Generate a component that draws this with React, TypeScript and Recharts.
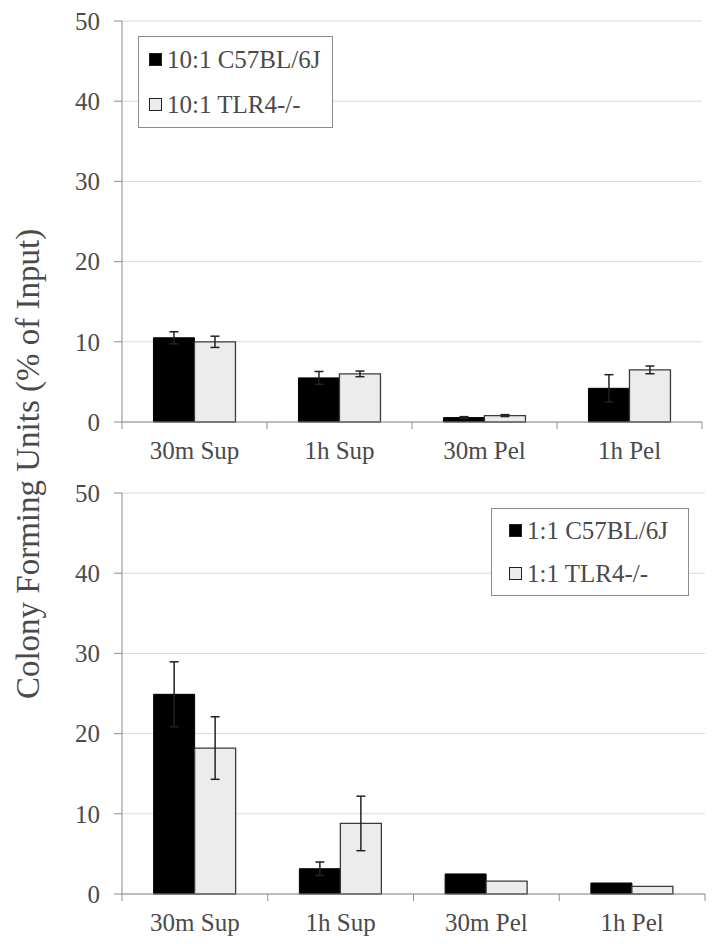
import { BarChart, Bar, XAxis, YAxis, CartesianGrid, Legend, ErrorBar } from "recharts";

const categories = ["30m Sup", "1h Sup", "30m Pel", "1h Pel"];
const yTicks = [0, 10, 20, 30, 40, 50];

// top panel: 10:1
const topB6 = [10.5, 5.5, 0.55, 4.2];
const topB6Err = [0.75, 0.8, 0.12, 1.7];
const topTlr = [10.0, 6.0, 0.8, 6.5];
const topTlrErr = [0.7, 0.35, 0.12, 0.48];

// bottom panel: 1:1
const botB6 = [24.9, 3.15, 2.5, 1.37];
const botB6Err = [4.05, 0.84, 0, 0];
const botTlr = [18.2, 8.8, 1.6, 0.96];
const botTlrErr = [3.9, 3.4, 0, 0];

const FONT = "Liberation Serif, Tinos, DejaVu Serif, serif";
const AXIS = "#8c8c8c";
const TEXT = "#4a4a4a";

const rows = (b6: number[], b6e: number[], tlr: number[], tlre: number[]) =>
  categories.map((cat, i) => ({ cat, b6: b6[i], b6e: b6e[i], tlr: tlr[i], tlre: tlre[i] }));

const XTick = (props: any) => {
  const { x, y, payload, index } = props;
  const half = payload && payload.offset > 0 ? payload.offset : 72.5;
  return (
    <g>
      <line x1={x - half} x2={x - half} y1={y} y2={y + 7} stroke={AXIS} />
      {index === categories.length - 1 && (
        <line x1={x + half} x2={x + half} y1={y} y2={y + 7} stroke={AXIS} />
      )}
      <text x={x} y={y + 37} textAnchor="middle" fill={TEXT} fontSize={25} style={{ fontFamily: FONT }}>
        {payload.value}
      </text>
    </g>
  );
};

const LegendBox = ({ payload, w, h, padLeft }: any) => (
  <div style={{
    width: w, height: h, boxSizing: "border-box", border: `1px solid ${AXIS}`,
    background: "#fff", display: "flex", flexDirection: "column", justifyContent: "space-around",
    paddingLeft: padLeft, fontFamily: FONT, color: TEXT, fontSize: 25,
  }}>
    {(payload || []).map((p: any) => (
      <div key={p.value} style={{ display: "flex", alignItems: "center", lineHeight: 1 }}>
        <span style={{
          display: "inline-block", width: 13, height: 13, boxSizing: "border-box",
          background: p.payload?.fill ?? p.color, border: "1.5px solid #222", marginRight: 5,
        }} />
        <span>{p.value}</span>
      </div>
    ))}
  </div>
);

function Panel({ data, names, height, margin, xHeight, legend }: any) {
  return (
    <BarChart width={719} height={height} data={data} margin={margin} barCategoryGap="21.7%" barGap={0}
      style={{ fontFamily: FONT }}>
      <CartesianGrid vertical={false} stroke="#d9d9d9" />
      <XAxis dataKey="cat" height={xHeight} interval={0} tickSize={0} tickMargin={0}
        axisLine={{ stroke: AXIS }} tickLine={false} tick={<XTick />} />
      <XAxis xAxisId="frame" dataKey="cat" orientation="top" height={0} tick={false}
        tickLine={false} axisLine={{ stroke: AXIS }} />
      <YAxis domain={[0, 50]} ticks={yTicks} interval={0} width={122} tickSize={8} tickMargin={14}
        axisLine={{ stroke: AXIS }} tickLine={{ stroke: AXIS }}
        tick={{ fill: TEXT, fontSize: 25, style: { fontFamily: FONT } }} />
      <YAxis yAxisId="frame" orientation="right" domain={[0, 50]} width={0} tick={false}
        tickLine={false} axisLine={{ stroke: AXIS }} />
      <Legend layout="vertical" align="center" verticalAlign="middle"
        wrapperStyle={{ left: legend.left, top: legend.top, width: legend.w, height: legend.h }}
        content={(p: any) => <LegendBox payload={p.payload} w={legend.w} h={legend.h} padLeft={legend.pad} />} />
      <Bar dataKey="b6" name={names[0]} fill="#000" stroke="#000" isAnimationActive={false}>
        <ErrorBar dataKey="b6e" width={4.5} stroke="#222" strokeWidth={1.5} />
      </Bar>
      <Bar dataKey="tlr" name={names[1]} fill="#ececec" stroke="#3a3a3a" strokeWidth={1.3} isAnimationActive={false}>
        <ErrorBar dataKey="tlre" width={4.5} stroke="#222" strokeWidth={1.5} />
      </Bar>
    </BarChart>
  );
}

export default function App() {
  return (
    <div style={{ position: "absolute", left: 0, top: 0, width: 719, height: 944, background: "#fff", fontFamily: FONT }}>
      <div style={{ position: "absolute", left: 0, top: 0 }}>
        <Panel data={rows(topB6, topB6Err, topTlr, topTlrErr)}
          names={["10:1 C57BL/6J", "10:1 TLR4-/-"]}
          height={470} xHeight={48} margin={{ top: 21, right: 17, left: 0, bottom: 0 }}
          legend={{ left: 138, top: 36, w: 195, h: 92, pad: 10 }} />
      </div>
      <div style={{ position: "absolute", left: 0, top: 470 }}>
        <Panel data={rows(botB6, botB6Err, botTlr, botTlrErr)}
          names={["1:1 C57BL/6J", "1:1 TLR4-/-"]}
          height={474} xHeight={50} margin={{ top: 23, right: 14, left: 0, bottom: 0 }}
          legend={{ left: 491, top: 38, w: 198, h: 88, pad: 17 }} />
      </div>
      <div style={{
        position: "absolute", left: 28, top: 464, transform: "translate(-50%, -50%) rotate(-90deg)",
        whiteSpace: "nowrap", fontFamily: FONT, fontSize: 33, color: TEXT,
      }}>
        Colony Forming Units (% of Input)
      </div>
    </div>
  );
}
